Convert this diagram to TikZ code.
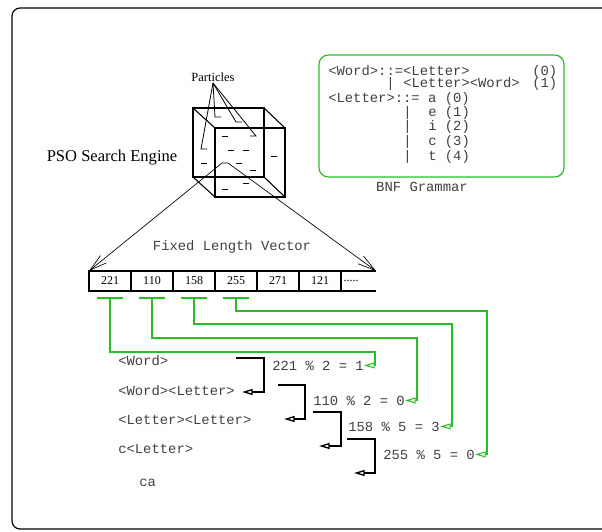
\documentclass[tikz,border=0pt]{standalone}
\usepackage{fontspec}
\setmainfont{Liberation Serif}
\setmonofont{Liberation Mono}
\usetikzlibrary{arrows.meta,positioning}
\definecolor{bnfgreen}{RGB}{40,190,40}

\begin{document}
\begin{tikzpicture}[x=0.75pt,y=-0.75pt,
  frame/.style={line width=0.9pt, rounded corners=6pt},
  cube/.style={line width=0.8pt},
  part/.style={line width=0.6pt},
  cell/.style={draw, line width=0.8pt, minimum width=31.5pt, minimum height=15pt,
    inner sep=0pt, outer sep=0pt, font=\fontsize{9}{10}\selectfont},
  code/.style={anchor=base west, inner sep=0pt, font=\fontsize{10.4}{12}\ttfamily, text=black!75},
  gbox/.style={bnfgreen, line width=0.9pt, rounded corners=7pt},
  gbar/.style={bnfgreen, line width=0.8pt},
  gline/.style={bnfgreen, line width=0.8pt, -{Triangle[open,length=8pt,width=4.5pt]}},
  bline/.style={line width=1pt, -{Triangle[open,length=8pt,width=4.5pt]}},
  spread/.style={line width=0.5pt,
    {Straight Barb[length=13pt,width=7pt]}-{Straight Barb[length=13pt,width=7pt]}}
]
\path[use as bounding box] (0,0) rectangle (602,531);
\clip (0,0) rectangle (602,531);

% Cadre
\draw[frame] (12,8) rectangle (640,529);

% Moteur PSO
\node[font=\fontsize{12.4}{14}\selectfont] (pso) at (112,158) {PSO Search Engine};
\draw[cube] (193,108) rectangle (264,177);
\draw[cube] (215,128) rectangle (285,197);
\draw[cube] (193,108) -- (215,128) (264,108) -- (285,128)
  (193,177) -- (215,197) (264,177) -- (285,197);

% Particules
\node[font=\fontsize{9.4}{10}\selectfont, inner sep=1pt] (part) at (213,77) {Particles};
\draw[part] (part.south) -- (201,149) -- (207,149);
\draw[part] (part.south) -- (215,117) -- (221,117);
\draw[part] (part.south) -- (236,122) -- (242,122);
\draw[part] (part.south) -- (256,136) -- (250,136);
\foreach \x/\y in {222/136, 228/150, 243/150, 201/163, 236/163,
                   271/156, 250/170, 243/183, 222/189}
  \draw[part] (\x,\y) -- ++(6,0);

% Grammaire BNF
\draw[gbox] (319,55) rectangle (564,177);
\node[code] (bnf1) at (328,76) {<Word>::=<Letter>};
\node[code] (bnf1n) at (532,76) {(0)};
\node[code] (bnf2b) at (386,88) {|};
\node[code] (bnf2) at (403,88) {<Letter><Word>};
\node[code] (bnf2n) at (532,88) {(1)};
\node[code] (bnf3) at (328,103) {<Letter>::= a (0)};
\foreach \t/\y [count=\i from 4] in {e (1)/117, i (2)/131, c (3)/146, t (4)/160} {
  \node[code] (bnf\i b) at (403,\y) {|};
  \node[code] (bnf\i) at (428,\y) {\t};
}
\node[code, anchor=center] (bnfcap) at (422,187) {BNF Grammar};

% Vecteur de longueur fixe
\node[code, anchor=center] (vec) at (232,247) {Fixed Length Vector};
\node[cell] (c1) at (110,281) {221};
\node[cell, right=0pt of c1] (c2) {110};
\node[cell, right=0pt of c2] (c3) {158};
\node[cell, right=0pt of c3] (c4) {255};
\node[cell, right=0pt of c4] (c5) {271};
\node[cell, right=0pt of c5] (c6) {121};
\node[cell, draw=none, minimum width=26.25pt, text width=22.25pt, inner xsep=2pt,
  align=left, right=0pt of c6] (c7) {.....};
\draw[line width=0.8pt] (c7.north west) -- (c7.north east) (c7.south west) -- (c7.south east);
\draw[spread] (c1.north west) -- (222,163) -- (228,163) -- (c7.north east);

% Derivation
\node[code] (d1) at (118,365) {<Word>};
\node[code] (d2) at (118,395) {<Word><Letter>};
\node[code] (d3) at (118,424) {<Letter><Letter>};
\node[code] (d4) at (118,453) {c<Letter>};
\node[code] (d5) at (139,486) {ca};
\node[code] (m1) at (272,370) {221 \% 2 = 1};
\node[code] (m2) at (313,405) {110 \% 2 = 0};
\node[code] (m3) at (348,431) {158 \% 5 = 3};
\node[code] (m4) at (383,459) {255 \% 5 = 0};
\foreach \sx/\sy/\ex/\ey/\tx in {236/358/264/392/242, 278/385/305/419/284,
                                 313/412/341/446/319, 347/439/375/473/354}
  \draw[bline] (\sx,\sy) -| (\ex,\ey) -- (\tx,\ey);

% Liens vers les codons
\foreach \i/\cx/\cy in {1/375/352, 2/417/338, 3/452/324, 4/487/311} {
  \coordinate[below=5.25pt of c\i] (t\i);
  \draw[gbar] ([xshift=-9.75pt]t\i) -- ([xshift=9.75pt]t\i);
  \draw[gline] (t\i) |- (\cx,\cy) |- (m\i.east);
}

\end{tikzpicture}
\end{document}
